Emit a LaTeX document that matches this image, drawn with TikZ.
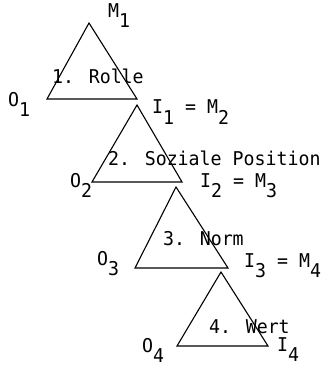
\documentclass[tikz,border=0pt]{standalone}
\usepackage{fontspec}
\newfontfamily\monofnt[FakeStretch=0.96]{DejaVu Sans Mono}
\newcommand{\sbx}[1]{\raisebox{-10pt}{#1}}
\begin{document}
\begin{tikzpicture}[x=1pt,y=-1pt,
  lbl/.style={anchor=base west,inner sep=0pt,font=\monofnt\fontsize{19}{21}\selectfont},
  tri/.style={draw=black,line width=1.1pt,line join=miter}]
\useasboundingbox (0,0) rectangle (322,366);
% triangle vertices
\coordinate (a1) at (89,23);  \coordinate (l1) at (47,99);  \coordinate (r1) at (137,99);
\coordinate (a2) at (137,105);\coordinate (l2) at (92,182);  \coordinate (r2) at (182,182);
\coordinate (a3) at (176,187);\coordinate (l3) at (135,268); \coordinate (r3) at (228,268);
\coordinate (a4) at (221,272);\coordinate (l4) at (177,346); \coordinate (r4) at (268,346);
\draw[tri] (a1) -- (l1) -- (r1) -- cycle;
\draw[tri] (a2) -- (l2) -- (r2) -- cycle;
\draw[tri] (a3) -- (l3) -- (r3) -- cycle;
\draw[tri] (a4) -- (l4) -- (r4) -- cycle;
% labels
\node[lbl] (m1) at (108,18) {M\sbx{1}};
\node[lbl] (t1) at (52,84) {1. Rolle};
\node[lbl] (o1) at (8,107) {O\sbx{1}};
\node[lbl] (i1) at (152,114) {I\sbx{1} = M\sbx{2}};
\node[lbl] (t2) at (108,165) {2. Soziale Position};
\node[lbl] (o2) at (70,187) {O\sbx{2}};
\node[lbl] (i2) at (200,187) {I\sbx{2} = M\sbx{3}};
\node[lbl] (t3) at (163,245) {3. Norm};
\node[lbl] (o3) at (97,265) {O\sbx{3}};
\node[lbl] (i3) at (244,267) {I\sbx{3} = M\sbx{4}};
\node[lbl] (t4) at (209,333) {4. Wert};
\node[lbl] (o4) at (142,352) {O\sbx{4}};
\node[lbl] (i4) at (277,351) {I\sbx{4}};
\end{tikzpicture}
\end{document}
